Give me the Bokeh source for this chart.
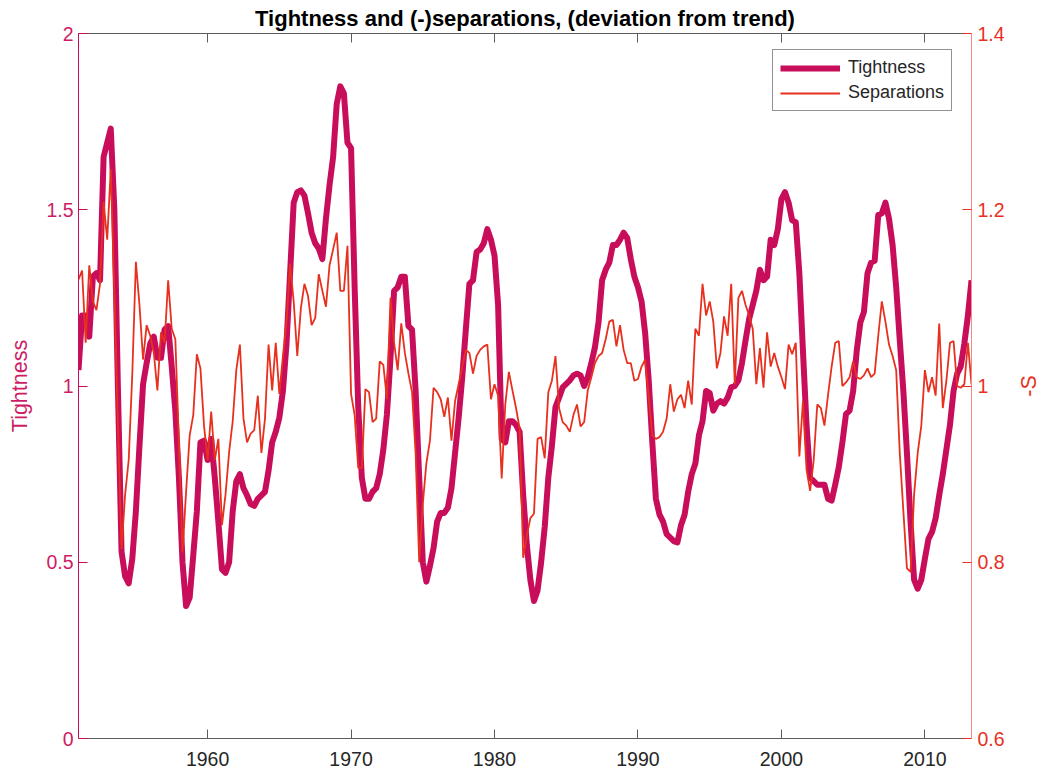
import numpy as np
from bokeh.plotting import figure
from bokeh.layouts import row
from bokeh.models import (Range1d, LinearAxis, Legend, LegendItem, FixedTicker,
                          PrintfTickFormatter, ColumnDataSource)
from bokeh.embed import file_html
from bokeh.resources import INLINE

# Quarterly series, first observation 1951Q1
start_year = 1951.0

tightness = [
    1.045, 1.20, 1.20, 1.14, 1.31, 1.32, 1.30, 1.65, 1.69, 1.73,
    1.50, 0.99, 0.53, 0.46, 0.44, 0.51, 0.645, 0.83, 1.005, 1.065,
    1.12, 1.14, 1.08, 1.08, 1.16, 1.17, 1.055, 0.93, 0.74, 0.50,
    0.376, 0.40, 0.52, 0.645, 0.84, 0.845, 0.79, 0.85, 0.74, 0.615,
    0.48, 0.47, 0.50, 0.645, 0.73, 0.75, 0.71, 0.69, 0.665, 0.66,
    0.68, 0.69, 0.70, 0.76, 0.84, 0.87, 0.91, 0.986, 1.12, 1.32,
    1.52, 1.55, 1.555, 1.54, 1.49, 1.435, 1.405, 1.39, 1.36, 1.475,
    1.57, 1.65, 1.80, 1.85, 1.83, 1.69, 1.675, 1.28, 0.94, 0.74,
    0.68, 0.68, 0.70, 0.71, 0.75, 0.82, 0.92, 1.08, 1.27, 1.28,
    1.31, 1.31, 1.17, 1.16, 0.986, 0.74, 0.50, 0.445, 0.49, 0.54,
    0.615, 0.64, 0.64, 0.655, 0.71, 0.81, 0.91, 1.025, 1.16, 1.29,
    1.30, 1.38, 1.387, 1.405, 1.445, 1.415, 1.37, 1.23, 0.85, 0.84,
    0.90, 0.90, 0.89, 0.87, 0.69, 0.55, 0.45, 0.39, 0.42, 0.50,
    0.60, 0.74, 0.83, 0.94, 0.967, 0.996, 1.006, 1.016, 1.03, 1.035,
    1.03, 1.00, 1.025, 1.065, 1.11, 1.18, 1.30, 1.33, 1.35, 1.40,
    1.40, 1.415, 1.435, 1.42, 1.36, 1.31, 1.28, 1.24, 1.15, 1.016,
    0.84, 0.68, 0.635, 0.615, 0.58, 0.57, 0.56, 0.556, 0.605, 0.635,
    0.70, 0.75, 0.78, 0.86, 0.90, 0.986, 0.98, 0.93, 0.95, 0.957,
    0.95, 0.967, 0.996, 1.00, 1.016, 1.065, 1.13, 1.19, 1.23, 1.27,
    1.33, 1.30, 1.31, 1.415, 1.40, 1.445, 1.53, 1.55, 1.52, 1.47,
    1.465, 1.32, 1.10, 0.89, 0.74, 0.73, 0.72, 0.72, 0.72, 0.68,
    0.675, 0.72, 0.77, 0.84, 0.92, 0.93, 0.986, 1.10, 1.18, 1.21,
    1.32, 1.35, 1.355, 1.485, 1.49, 1.52, 1.475, 1.40, 1.28, 1.13,
    0.986, 0.81, 0.615, 0.45, 0.425, 0.45, 0.51, 0.566, 0.586, 0.625,
    0.69, 0.75, 0.82, 0.89, 0.986, 1.035, 1.055, 1.12, 1.20, 1.30,
]

separations = [
    1.121, 1.131, 1.049, 1.137, 1.096, 1.086, 1.116, 1.209, 1.166, 1.246,
    1.104, 0.955, 0.815, 0.877, 0.916, 1.014, 1.141, 1.092, 1.03, 1.069,
    1.057, 1.0375, 0.995, 1.061, 1.049, 1.12, 1.065, 1.053, 0.936, 0.811,
    0.88, 0.944, 0.967, 1.036, 1.02, 0.955, 0.916, 0.971, 0.916, 0.94,
    0.842, 0.877, 0.925, 0.96, 1.018, 1.047, 0.963, 0.936, 0.946, 0.95,
    0.989, 0.924, 0.963, 1.047, 0.995, 1.049, 0.991, 1.034, 1.073, 1.139,
    1.096, 1.034, 1.088, 1.116, 1.102, 1.069, 1.077, 1.127, 1.108, 1.09,
    1.137, 1.155, 1.174, 1.108, 1.108, 1.159, 0.991, 0.967, 0.907, 0.907,
    0.9965, 0.993, 0.959, 0.963, 1.028, 1.024, 0.985, 1.10, 1.049, 1.018,
    1.071, 1.0375, 1.014, 0.993, 0.924, 0.80, 0.866, 0.9125, 0.938, 0.998,
    0.993, 0.985, 0.965, 0.987, 0.938, 0.983, 1.002, 1.022, 1.041, 1.0375,
    1.014, 1.034, 1.041, 1.045, 1.047, 0.985, 1.002, 0.989, 0.895, 0.979,
    1.016, 0.995, 0.975, 0.952, 0.805, 0.83, 0.85, 0.855, 0.94, 0.942,
    0.918, 0.993, 1.006, 1.034, 0.975, 0.959, 0.955, 0.948, 0.967, 0.979,
    0.954, 0.959, 0.995, 1.01, 1.026, 1.034, 1.0375, 1.053, 1.073, 1.075,
    1.045, 1.069, 1.041, 1.026, 1.026, 1.006, 1.008, 1.022, 1.03, 0.987,
    0.944, 0.94, 0.942, 0.948, 0.963, 1.002, 0.971, 0.985, 0.99, 0.975,
    1.006, 0.979, 1.065, 1.057, 1.116, 1.08, 1.096, 1.073, 1.02, 1.0375,
    1.079, 1.057, 1.116, 1.002, 1.10, 1.108, 1.092, 1.08, 1.065, 1.002,
    1.043, 0.998, 1.061, 1.022, 1.0375, 1.022, 1.01, 0.9965, 1.047, 1.036,
    1.049, 0.92, 0.983, 0.905, 0.881, 0.916, 0.979, 0.975, 0.955, 0.99,
    1.022, 1.049, 1.051, 1.0, 1.004, 1.01, 1.028, 1.01, 1.008, 1.012,
    1.02, 1.01, 1.014, 1.057, 1.096, 1.073, 1.047, 1.034, 1.018, 0.924,
    0.858, 0.793, 0.789, 0.877, 0.924, 0.955, 1.018, 0.993, 1.01, 0.989,
    1.071, 0.975, 1.006, 1.049, 1.051, 1.0, 0.998, 1.002, 1.049, 1.002,
]

x_ticks = [1960, 1970, 1980, 1990, 2000, 2010]
left_ticks = [0, 0.5, 1, 1.5, 2]
right_ticks = [0.6, 0.8, 1.0, 1.2, 1.4]

TIGHT_COLOR = "#C80E5A"
SEP_COLOR = "#E8301E"
FONT = "Liberation Sans"

dates = start_year + np.arange(len(tightness)) * 0.25
source = ColumnDataSource(data=dict(date=dates, tightness=tightness,
                                    separations=separations))

p = figure(width=1008, height=773, output_backend="svg", toolbar_location=None,
           x_range=Range1d(dates[0], dates[-1]), y_range=Range1d(0, 2),
           x_axis_type=None, y_axis_type=None,
           min_border_left=78, min_border_right=37,
           min_border_top=33, min_border_bottom=35)
p.extra_y_ranges = {"sep": Range1d(0.6, 1.4)}
p.xgrid.visible = False
p.ygrid.visible = False
p.outline_line_color = None
p.background_fill_color = "white"
p.border_fill_color = "white"

fmt = PrintfTickFormatter(format="%g")


def style_axis(ax, color, label_color):
    ax.formatter = fmt
    ax.major_tick_in = 9
    ax.major_tick_out = 0
    ax.minor_tick_line_color = None
    ax.axis_line_color = color
    ax.major_tick_line_color = color
    ax.major_label_text_color = label_color
    ax.major_label_text_font = FONT
    ax.major_label_text_font_size = "19.5px"
    ax.axis_label_text_font = FONT
    ax.axis_label_text_font_size = "21.5px"
    ax.axis_label_text_font_style = "normal"
    ax.axis_label_text_color = label_color


bottom = LinearAxis(ticker=FixedTicker(ticks=x_ticks))
style_axis(bottom, "#5c5c5c", "#262626")
bottom.major_label_standoff = 13
p.add_layout(bottom, "below")

# box edge along the top: same ticks, no tick labels
top = LinearAxis(ticker=FixedTicker(ticks=x_ticks))
style_axis(top, "#5c5c5c", "#262626")
top.major_label_text_color = None
top.major_label_text_font_size = "1px"
top.major_label_standoff = 0
p.add_layout(top, "above")

left = LinearAxis(ticker=FixedTicker(ticks=left_ticks), axis_label="Tightness")
style_axis(left, TIGHT_COLOR, "#CC1C64")
left.major_label_standoff = 5
left.axis_label_standoff = 11
p.add_layout(left, "left")

right = LinearAxis(y_range_name="sep", ticker=FixedTicker(ticks=right_ticks))
style_axis(right, "#F08C84", SEP_COLOR)
right.major_tick_line_color = SEP_COLOR
right.major_label_standoff = 6
p.add_layout(right, "right")

r_tight = p.line("date", "tightness", source=source, line_width=6,
                 line_color=TIGHT_COLOR, line_join="round")
r_sep = p.line("date", "separations", source=source, line_width=1.8,
               line_color=SEP_COLOR, y_range_name="sep")

legend = Legend(items=[LegendItem(label="Tightness", renderers=[r_tight]),
                       LegendItem(label="Separations", renderers=[r_sep])],
                location=(694, 627))
legend.glyph_width = 60
legend.glyph_height = 20
legend.label_height = 20
legend.spacing = 4
legend.padding = 7
legend.margin = 0
legend.label_standoff = 8
legend.label_text_font = FONT
legend.label_text_font_size = "18px"
legend.label_text_color = "#262626"
legend.border_line_color = "#262626"
legend.border_line_width = 1
legend.background_fill_alpha = 1
p.add_layout(legend)

p.title.text = "Tightness and (-)separations, (deviation from trend)"
p.title.align = "center"
p.title.text_font = FONT
p.title.text_font_size = "22px"
p.title.text_font_style = "bold"
p.title.text_color = "#000000"
p.title.standoff = 5

# narrow strip holding the right-hand axis title, reading bottom to top
side = figure(width=33, height=773, output_backend="svg", toolbar_location=None,
              x_axis_type=None, y_axis_type=None, title="-S",
              title_location="left", min_border_left=32, min_border_right=0,
              min_border_top=33, min_border_bottom=35)
side.outline_line_color = None
side.border_fill_color = "white"
side.background_fill_color = "white"
side.title.align = "center"
side.title.standoff = 0
side.title.text_font = FONT
side.title.text_font_size = "21.5px"
side.title.text_font_style = "normal"
side.title.text_color = SEP_COLOR

page = row(p, side, spacing=0)

open("out.html", "w").write(file_html(page, INLINE))
